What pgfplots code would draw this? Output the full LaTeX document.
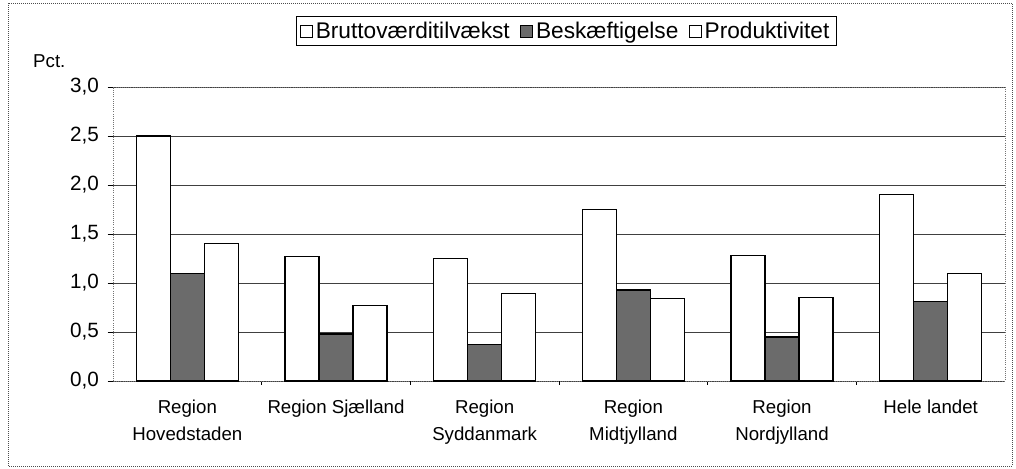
\documentclass[border=0pt]{standalone}
\usepackage{pgfplots}
\pgfplotsset{compat=1.18}
\usetikzlibrary{calc}
\usepackage{fontspec}
\setmainfont{Liberation Sans}
\begin{document}
\begin{tikzpicture}[x=1pt,y=1pt]
\def\px{0.75}
\begin{axis}[
  name=ax,
  scale only axis,
  width=669pt, height=220.5pt,
  xmin=-0.5, xmax=5.5,
  ymin=0, ymax=3,
  ytick={0,0.5,...,3.0},
  yticklabel style={/pgf/number format/fixed,/pgf/number format/fixed zerofill,/pgf/number format/precision=1,/pgf/number format/use comma,/pgf/number format/assume math mode=true,font=\fontsize{15.5}{18}\selectfont, xshift=-3pt},
  ymajorgrids,
  major grid style={black!75, line width=0.5pt},
  axis line style={black!55, densely dotted, line width=0.6pt},
  ybar=0pt, bar width=25.5pt,
  xtick={0,1,2,3,4,5},
  xticklabels={{Region\\Hovedstaden},{Region Sjælland},{Region\\Syddanmark},{Region\\Midtjylland},{Region\\Nordjylland},{Hele landet}},
  xticklabel style={align=center, font=\fontsize{14}{20}\selectfont, anchor=north, yshift=-7pt},
  x tick style={draw=none},
  minor xtick={0.5,1.5,2.5,3.5,4.5},
  minor x tick style={draw=black, line width=0.5pt},
  minor tick length=3pt,
  y tick style={black, line width=0.5pt},
  major tick length=4pt,
  tick align=outside,
  xtick pos=bottom, ytick pos=left,
  legend columns=-1,
  legend style={at={(axis description cs:0.508,1.19)}, anchor=center, draw=black, line width=0.5pt,
    font=\fontsize{17}{19}\selectfont, inner xsep=3pt, inner ysep=2pt,
    /tikz/every even column/.append style={column sep=6pt}},
  legend image code/.code={\draw[#1, line width=0.7pt] (0pt,-4.5pt) rectangle (9pt,4.5pt);},
  clip=false,
]
\addplot[draw=black, fill=white, line width=1pt] coordinates {(0,2.50) (1,1.27) (2,1.25) (3,1.75) (4,1.28) (5,1.90)};
\addplot[draw=black, fill=black!58, line width=1pt] coordinates {(0,1.10) (1,0.48) (2,0.37) (3,0.93) (4,0.45) (5,0.81)};
\addplot[draw=black, fill=white, line width=1pt] coordinates {(0,1.40) (1,0.77) (2,0.89) (3,0.84) (4,0.85) (5,1.10)};
\legend{Bruttoværditilvækst,Beskæftigelse,Produktivitet}
\node[anchor=west, font=\fontsize{14}{16}\selectfont, inner sep=0pt] at (axis description cs:-0.0897,1.087) {Pct.};
\end{axis}
\path ($(ax.south west)+(-113*\px,-88*\px)$) rectangle ($(ax.north east)+(11*\px,87*\px)$);
\draw[black!70, line width=0.5pt, densely dotted] ($(ax.south west)+(-105*\px,-85*\px)$) rectangle ($(ax.north east)+(7*\px,84*\px)$);
\end{tikzpicture}
\end{document}
